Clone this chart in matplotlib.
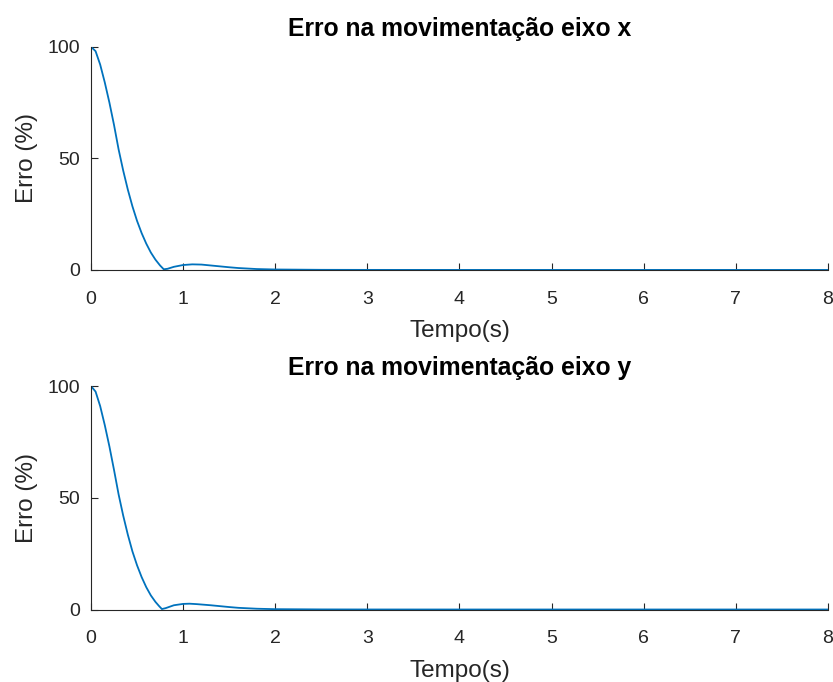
import matplotlib
matplotlib.use('Agg')
import matplotlib.pyplot as plt

plt.rcParams['font.family'] = ['Liberation Sans', 'DejaVu Sans']

# Curve readings (time in s, error in %)
t_x = [0.0, 0.05, 0.1, 0.15, 0.2, 0.25, 0.3, 0.35, 0.4, 0.45, 0.5, 0.55, 0.6,
       0.65, 0.7, 0.75, 0.79, 0.83, 0.9, 1.0, 1.1, 1.2, 1.3, 1.4, 1.5, 1.6,
       1.8, 2.0, 2.5, 3.0, 4.0, 5.0, 6.0, 7.0, 8.0]
err_x = [100.0, 98.0, 92.0, 84.0, 75.0, 65.0, 54.0, 44.5, 36.0, 28.5, 22.0, 16.5, 11.8,
         7.8, 4.6, 2.0, 0.3, 0.5, 1.4, 2.2, 2.5, 2.4, 2.0, 1.6, 1.2, 0.85,
         0.4, 0.2, 0.05, 0.02, 0.0, 0.0, 0.0, 0.0, 0.0]

t_y = [0.0, 0.05, 0.1, 0.15, 0.2, 0.25, 0.3, 0.35, 0.4, 0.45, 0.5, 0.55, 0.6,
       0.65, 0.7, 0.74, 0.77, 0.81, 0.9, 1.0, 1.07, 1.15, 1.3, 1.4, 1.5, 1.6,
       1.8, 2.0, 2.5, 3.0, 4.0, 5.0, 6.0, 7.0, 8.0]
err_y = [100.0, 97.5, 91.0, 82.5, 73.0, 62.5, 51.5, 42.0, 33.5, 26.0, 19.8, 14.5, 10.0,
         6.3, 3.4, 1.5, 0.2, 0.6, 1.9, 2.5, 2.6, 2.4, 1.9, 1.5, 1.1, 0.75,
         0.35, 0.15, 0.04, 0.01, 0.0, 0.0, 0.0, 0.0, 0.0]

titles = ['Erro na movimentação eixo x', 'Erro na movimentação eixo y']
x_ticks = [0, 1, 2, 3, 4, 5, 6, 7, 8]
y_ticks = [0, 50, 100]

fig = plt.figure(figsize=(8.33, 6.82), dpi=100)
ax1 = fig.add_axes([0.1092, 0.6042, 0.8848, 0.3273])
ax2 = fig.add_axes([0.1092, 0.1063, 0.8848, 0.3277])

axis_col = '#262626'
for ax, t, e, title in [(ax1, t_x, err_x, titles[0]), (ax2, t_y, err_y, titles[1])]:
    ax.plot(t, e, color='#0072BD', lw=1.3)
    ax.set_xlim(0, 8)
    ax.set_ylim(0, 100)
    ax.set_xticks(x_ticks)
    ax.set_yticks(y_ticks)
    ax.spines['top'].set_visible(False)
    ax.spines['right'].set_visible(False)
    for s in ['left', 'bottom']:
        ax.spines[s].set_color(axis_col)
        ax.spines[s].set_linewidth(0.8)
    ax.tick_params(direction='in', length=5, width=0.8, colors=axis_col,
                   labelsize=14)
    ax.tick_params(axis='x', pad=15)
    ax.tick_params(axis='y', pad=8)
    ax.set_xlabel('Tempo(s)', fontsize=17.5, color=axis_col, labelpad=9)
    ax.set_ylabel('Erro (%)', fontsize=17.5, color=axis_col, labelpad=7)
    ax.set_title(title, fontsize=17.8, fontweight='bold', pad=8)

fig.savefig('out.png', dpi=100)
